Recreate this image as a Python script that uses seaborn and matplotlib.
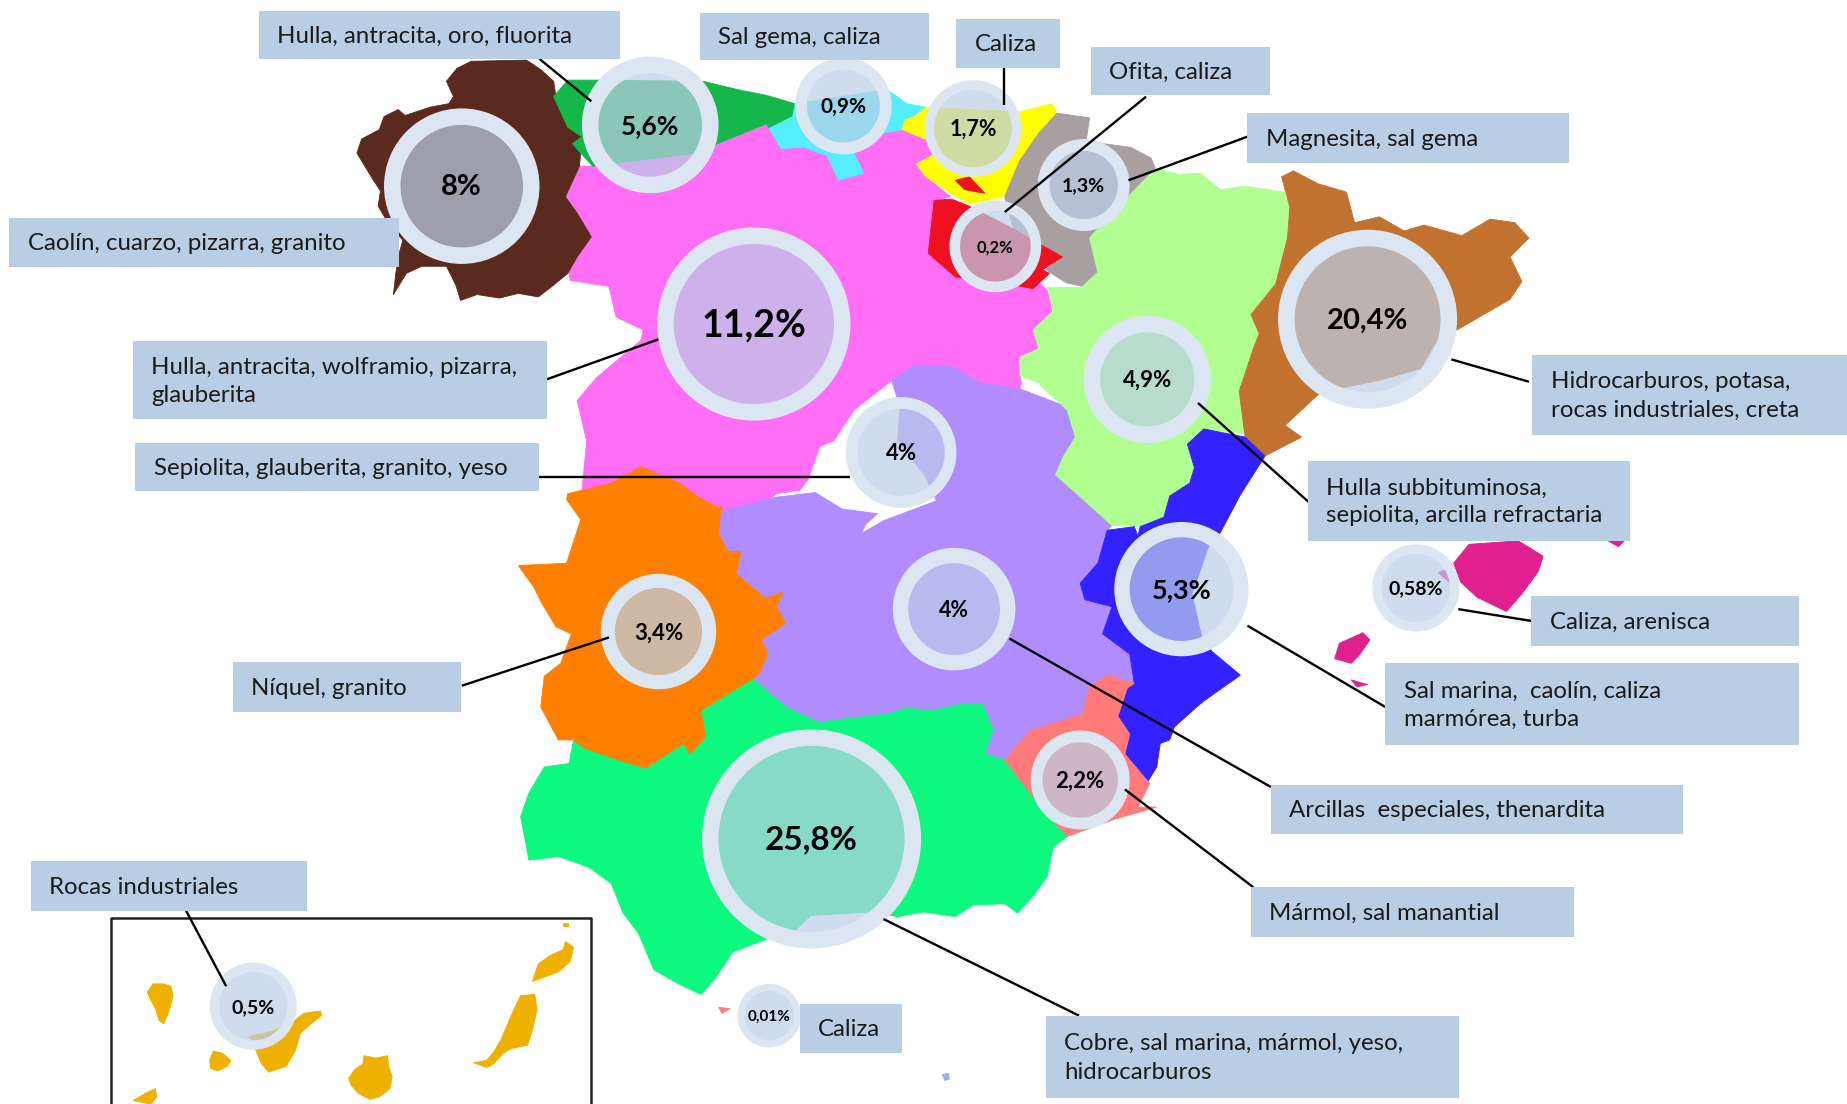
import matplotlib
matplotlib.use("Agg")
from matplotlib import pyplot as plt
from matplotlib.colors import to_rgba
import seaborn as sns
import numpy as np
import pandas as pd

sns.set_style("white")
plt.rcParams['font.family'] = ['Lato', 'DejaVu Sans']

# everything is read in px of the 1568x937 view of the picture
galicia = [(400,52),(447,51),(459,59),(470,69),(472,82),(482,108),(494,116),(492,141),(480,167),(490,181),(502,201),(490,218),(482,232),(470,242),(457,252),(440,249),(424,253),(405,250),(391,255),(387,242),(379,226),(358,226),(345,232),(334,250),(336,232),(338,218),(342,204),(330,190),(321,175),(323,162),(317,153),(303,130),(307,118),(322,110),(326,99),(338,93),(344,98),(365,91),(381,88),(385,82),(379,69),(388,58)]
asturias = [(470,82),(482,68),(507,68),(597,69),(626,76),(651,81),(675,88),(673,99),(653,109),(651,105),(609,122),(591,130),(503,141),(486,122),(494,116),(482,108)]
cantabria = [(653,109),(673,99),(675,88),(753,76),(770,88),(786,91),(788,105),(766,110),(749,113),(725,130),(733,147),(712,153),(702,132),(683,125),(663,126)]
castilla_leon = [(503,141),(591,130),(609,122),(651,105),(653,109),(663,126),(683,125),(702,132),(712,153),(733,147),(725,130),(749,113),(766,110),(788,105),(788,119),(795,130),(778,139),(786,150),(807,167),(793,170),(788,215),(811,235),(873,240),(881,238),(891,249),(893,266),(881,277),(881,297),(865,306),(867,325),(866,330),(832,325),(807,310),(774,311),(757,323),(725,348),(708,374),(696,379),(686,407),(679,416),(659,419),(651,427),(614,433),(593,422),(577,410),(544,396),(519,410),(494,417),(498,374),(490,340),(507,320),(544,289),(546,280),(523,269),(517,243),(484,238),(482,226),(502,201),(490,181),(480,167),(492,141)]
castilla_mancha = [(757,323),(774,311),(807,310),(832,325),(866,330),(905,345),(913,371),(903,387),(896,403),(922,426),(944,446),(940,450),(932,478),(917,495),(921,509),(944,515),(936,538),(959,555),(963,580),(940,574),(925,583),(919,606),(875,620),(853,645),(836,640),(843,620),(834,597),(819,597),(792,603),(769,601),(754,606),(735,608),(694,613),(667,600),(652,587),(639,576),(644,572),(652,555),(646,543),(667,529),(659,515),(665,502),(650,508),(625,487),(629,468),(618,468),(610,453),(612,430),(614,433),(659,422),(692,418),(715,432),(745,436),(735,445),(731,453),(750,442),(795,425),(786,405),(762,374),(764,345)]
aragon = [(981,143),(1001,148),(1019,147),(1036,161),(1057,158),(1090,163),(1095,176),(1093,202),(1083,241),(1066,267),(1069,283),(1064,296),(1052,332),(1057,368),(1022,364),(1008,377),(1014,397),(1010,410),(993,421),(988,439),(968,447),(944,446),(922,426),(896,403),(903,387),(913,371),(906,348),(880,324),(866,319),(866,303),(882,296),(877,280),(894,264),(889,244),(918,244),(932,231),(925,202),(943,182)]
navarra = [(897,96),(925,100),(922,120),(960,125),(977,134),(981,143),(943,182),(925,202),(932,231),(923,244),(905,240),(888,229),(901,218),(880,204),(862,200),(852,164),(865,136),(881,113)]
rioja = [(793,170),(808,169),(823,175),(856,192),(881,206),(902,218),(885,229),(891,232),(877,245),(856,241),(811,235),(788,215)]
rioja_small = [(811,153),(823,150),(836,164),(819,161)]
pais_vasco = [(776,99),(786,91),(865,95),(893,88),(897,95),(881,113),(865,136),(852,167),(823,173),(807,164),(786,150),(778,139),(795,130),(788,119),(766,110),(768,102)]
cataluna = [(1088,150),(1098,145),(1119,156),(1143,163),(1150,189),(1171,184),(1192,196),(1209,191),(1241,200),(1265,186),(1286,189),(1298,202),(1282,218),(1292,239),(1282,254),(1237,280),(1221,287),(1206,313),(1170,323),(1140,329),(1119,335),(1091,361),(1105,371),(1074,387),(1057,371),(1052,332),(1064,296),(1069,283),(1062,267),(1083,241),(1093,202),(1095,176)]
valencia = [(1022,364),(1057,371),(1074,387),(1053,420),(1036,452),(1026,464),(1012,504),(1020,540),(1029,553),(1053,573),(1022,595),(1016,600),(997,617),(993,628),(985,631),(982,651),(974,664),(963,656),(955,640),(959,623),(949,608),(957,584),(963,580),(959,555),(936,538),(944,515),(921,509),(917,495),(932,478),(940,450),(963,447),(966,455),(968,447),(988,439),(993,421),(1010,410),(1014,397),(1008,377)]
murcia = [(940,573),(963,580),(957,584),(949,608),(959,623),(955,640),(976,665),(966,685),(982,685),(947,695),(906,710),(879,679),(853,645),(875,620),(919,606),(925,583)]
andalucia = [(853,645),(836,640),(843,620),(834,597),(819,597),(792,603),(769,601),(754,606),(735,608),(694,613),(667,600),(652,587),(639,576),(595,603),(599,625),(586,640),(580,631),(548,652),(525,645),(496,635),(487,628),(483,648),(462,651),(449,673),(442,693),(449,730),(474,727),(500,736),(519,750),(529,775),(542,792),(555,823),(576,835),(595,844),(606,832),(622,808),(648,798),(675,790),(688,777),(739,774),(762,778),(784,774),(811,778),(826,768),(853,767),(864,775),(879,758),(889,744),(894,719),(906,710),(879,679)]
extremadura = [(440,480),(481,478),(493,441),(481,424),(482,419),(519,410),(544,396),(577,410),(593,422),(614,433),(612,430),(610,453),(618,468),(629,468),(625,487),(650,508),(665,502),(659,515),(667,529),(646,543),(652,555),(644,572),(639,576),(595,603),(599,625),(586,640),(580,631),(548,652),(525,645),(496,635),(487,628),(474,628),(459,600),(462,574),(476,563),(485,538),(472,532),(460,512),(453,498)]
mallorca = [(1234,478),(1247,462),(1289,459),(1310,472),(1306,485),(1292,504),(1279,519),(1254,507),(1240,494)]
mallorca_tip = [(1221,486),(1228,483),(1230,494)]
menorca = [(1365,459),(1379,459),(1374,464)]
ibiza = [(1133,559),(1137,546),(1157,537),(1163,543),(1154,556),(1147,563)]
formentera = [(1147,577),(1161,581),(1152,583)]
ceuta = [(610,855),(620,856),(613,860)]
melilla = [(800,912),(805,911),(806,916),(802,917)]
la_palma = [(125,842),(130,835),(139,835),(145,837),(147,845),(145,853),(142,862),(139,869),(135,866),(132,856),(128,849)]
gomera = [(178,900),(181,892),(189,894),(196,900),(193,905),(185,909),(179,907)]
tenerife = [(217,891),(222,903),(228,910),(243,905),(251,891),(255,877),(264,869),(273,862),(272,858),(258,860),(249,867),(232,875),(211,880),(216,883)]
gran_canaria = [(296,915),(301,908),(308,903),(309,896),(319,898),(329,896),(330,905),(333,914),(331,924),(322,931),(314,933),(304,928),(298,921)]
fuerteventura = [(402,902),(413,900),(419,893),(425,883),(431,869),(437,855),(442,845),(454,844),(456,857),(452,874),(448,887),(434,890),(427,894),(419,903),(413,906)]
lanzarote = [(452,833),(457,818),(467,811),(478,806),(480,799),(487,804),(484,816),(474,825),(460,830)]
hierro = [(113,934),(125,927),(132,924),(133,931),(128,937)]
alegranza = [(478,783),(482,783),(482,786),(478,786)]

regions = [
    (castilla_leon, '#FF6EF5'), (castilla_mancha, '#B08CFF'), (galicia, '#5B2A1E'),
    (asturias, '#14B84A'), (cantabria, '#55EEFF'), (navarra, '#A8A0A0'),
    (pais_vasco, '#FFFF00'), (rioja, '#EE1122'), (rioja_small, '#EE1122'),
    (aragon, '#B0FF90'), (cataluna, '#C0722E'), (valencia, '#3322FF'),
    (andalucia, '#0CF87F'), (murcia, '#FF7A78'), (extremadura, '#FF8000'),
    (mallorca, '#E0208F'), (mallorca_tip, '#E0208F'), (menorca, '#E0208F'),
    (ibiza, '#E0208F'), (formentera, '#E0208F'), (ceuta, '#FF7A78'), (melilla, '#8FB4E8'),
    (la_palma, '#F0B000'), (gomera, '#F0B000'), (tenerife, '#F0B000'),
    (gran_canaria, '#F0B000'), (fuerteventura, '#F0B000'), (lanzarote, '#F0B000'),
    (hierro, '#F0B000'), (alegranza, '#F0B000'),
]

pct_labels = ['8%', '5,6%', '0,9%', '1,7%', '1,3%', '0,2%', '11,2%', '4%', '20,4%', '4,9%', '5,3%', '0,58%', '3,4%', '4%', '2,2%', '25,8%', '0,01%', '0,5%']
pct_x = [392, 552, 716, 826, 920, 845, 640, 765, 1161, 974, 1003, 1202, 559, 810, 917, 689, 653, 215]
pct_y = [158, 106, 90, 109, 157, 209, 275, 384, 271, 322, 500, 499, 536, 517, 662, 712, 862, 854]
outer_r = [66, 58, 41, 41, 39, 39, 82, 47, 76, 54, 57, 37, 49, 52, 42, 93, 27, 37]
inner_r = [52, 44, 31, 33, 29, 30, 68, 37, 62, 40, 44, 29, 37, 39, 32, 79, 21, 29]
pct_size = [21, 19, 15, 15.5, 14, 12, 27, 16, 21, 16, 19.5, 14, 16, 15.5, 16, 24, 11, 14]

box_text = ['Hulla, antracita, oro, fluorita', 'Sal gema, caliza', 'Caliza', 'Ofita, caliza', 'Magnesita, sal gema',
            'Caolín, cuarzo, pizarra, granito', 'Hulla, antracita, wolframio, pizarra,\nglauberita',
            'Sepiolita, glauberita, granito, yeso', 'Hidrocarburos, potasa,\nrocas industriales, creta',
            'Hulla subbituminosa,\nsepiolita, arcilla refractaria', 'Caliza, arenisca',
            'Sal marina,  caolín, caliza\nmarmórea, turba', 'Arcillas  especiales, thenardita', 'Mármol, sal manantial',
            'Níquel, granito', 'Rocas industriales', 'Caliza', 'Cobre, sal marina, mármol, yeso,\nhidrocarburos']
box_x0 = [220, 594, 812, 926, 1059, 8, 113, 115, 1301, 1110, 1300, 1176, 1079, 1062, 198, 26, 679, 888]
box_y0 = [9, 11, 16, 40, 96, 185, 289, 376, 301, 391, 506, 563, 666, 753, 562, 731, 852, 862]
box_x1 = [526, 789, 900, 1078, 1332, 339, 464, 458, 1568, 1384, 1527, 1527, 1429, 1336, 391, 261, 766, 1239]
box_y1 = [50, 51, 58, 81, 138, 227, 356, 417, 369, 459, 548, 632, 708, 795, 604, 773, 894, 932]

leaders = [[(458,50),(502,86)], [(852,58),(852,89)], [(973,82),(853,180)], [(1059,116),(958,153)],
           [(464,322),(559,288)], [(458,405),(722,405)], [(1232,305),(1298,324)], [(1017,342),(1112,427)],
           [(1238,517),(1300,527)], [(1059,531),(1176,600)], [(857,542),(1079,668)], [(955,670),(1064,753)],
           [(392,582),(517,541)], [(158,773),(192,837)], [(750,780),(916,862)]]

inset_x = [94, 502, 502, 94, 94]
inset_y = [1000, 1000, 779, 779, 1000]

fig, ax = plt.subplots(figsize=(18.47, 11.04), dpi=100)
ax.set_position([0, 0, 1, 1])

for outline, colour in regions:
    xs, ys = zip(*outline)
    ax.fill(xs, ys, color=colour, lw=0.6, zorder=1)

ax.plot(inset_x, inset_y, c='#222222', lw=1.8, zorder=2)

unit = 72 / 100 * 1847 / 1568  # px of the view -> points
bubbles = pd.DataFrame({'x': pct_x, 'y': pct_y, 'outer': outer_r, 'inner': inner_r})
sns.scatterplot(data=bubbles, x='x', y='y', ax=ax, legend=False, zorder=3,
                s=((bubbles['outer'] + bubbles['inner']) * unit) ** 2,
                color=to_rgba('#BBCEE7', 0.71), edgecolor='#DCE6F2',
                linewidth=(bubbles['outer'] - bubbles['inner']) * unit)

for line in leaders:
    xs, ys = zip(*line)
    ax.plot(xs, ys, c='k', lw=1.7, zorder=4, solid_capstyle='butt')

for txt, x0, y0, x1, y1 in zip(box_text, box_x0, box_y0, box_x1, box_y1):
    ax.fill([x0, x1, x1, x0], [y0, y0, y1, y1], color='#B9CDE5', lw=0, zorder=5)
    ax.text(x0 + 15.5, (y0 + y1) / 2 + 1, txt, fontsize=17.3, color='#1a1a1a', va='center', ha='left',
            linespacing=1.42, zorder=6)

for txt, x, y, fs in zip(pct_labels, pct_x, pct_y, pct_size):
    ax.text(x, y + 1, txt, fontsize=fs, fontweight='bold', color='k', ha='center', va='center', zorder=6)

ax.set_xlim(0, 1568)
ax.set_ylim(937, 0)
ax.axis('off')

plt.savefig('out.png', dpi=100)
